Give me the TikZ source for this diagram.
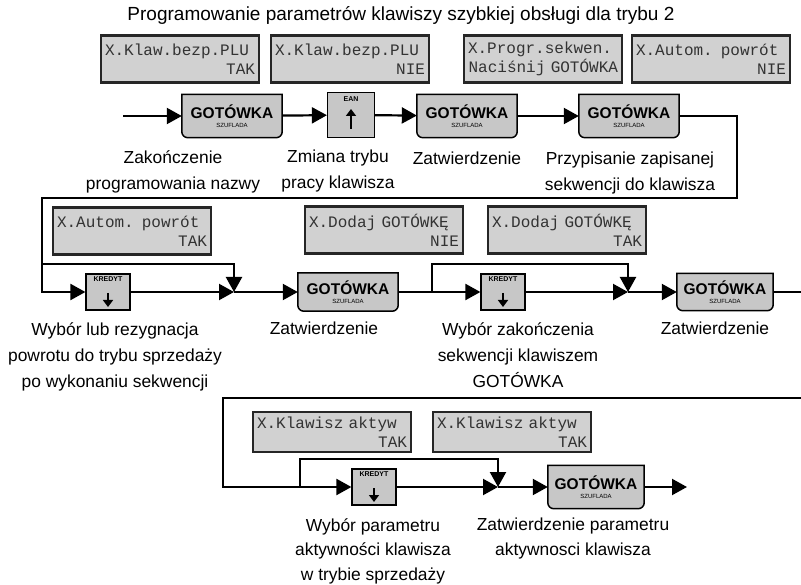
\documentclass[tikz,border=0pt]{standalone}
\usepackage{fontspec}
\setmainfont{Liberation Sans}
\setmonofont{Liberation Mono}
\usetikzlibrary{arrows.meta,backgrounds}

\definecolor{keygray}{gray}{0.78}
\definecolor{lcdgray}{gray}{0.82}
\newcommand\lcdtext[2]{#1\\\hspace*{\fill}#2}
\newcommand\gotkey{{\fontsize{15.5}{16}\selectfont\bfseries GOTÓWKA}\\[-3pt]{\fontsize{6}{7}\selectfont SZUFLADA}}

\begin{document}
\begin{tikzpicture}[x=1pt, y=-1pt,
    >={Triangle[length=15pt,width=16pt]},
    flow/.style={->, line width=2.2pt},
    link/.style={line width=2.2pt},
    lcd/.style={draw=black!85, line width=2.6pt, fill=lcdgray, text=black!80,
      font=\fontsize{16}{19}\ttfamily, text width=150pt, align=left,
      inner xsep=4pt, inner ysep=3pt, minimum height=47pt},
    gkey/.style={minimum width=100pt, minimum height=43pt, align=center, inner sep=0pt},
    skey/.style={draw, line width=1.2pt, fill=keygray, minimum width=44pt,
      minimum height=36pt, inner sep=0pt},
    keylabel/.style={anchor=north, inner sep=3.5pt, font=\fontsize{7}{8}\selectfont\bfseries},
    keyarrow/.style={-{Triangle[length=7pt,width=10pt]}, line width=2pt},
    keyshape/.style={draw, line width=1.5pt, fill=keygray},
    caption/.style={anchor=north, align=center, inner sep=0pt,
      font=\fontsize{17.4}{26}\selectfont}]

  \useasboundingbox (0,0) rectangle (801,585);
  \clip (0,0) rectangle (801,585);

  \node[font=\fontsize{19}{22}\selectfont] (title) at (401,15)
    {Programowanie parametrów klawiszy szybkiej obsługi dla trybu 2};

  % row 1
  \node[lcd] (d1) at (180,59) {\lcdtext{X.Klaw.bezp.PLU}{TAK}};
  \node[lcd] (d2) at (350,59) {\lcdtext{X.Klaw.bezp.PLU}{NIE}};
  \node[lcd] (d3) at (543,59) {\lcdtext{X.Progr.sekwen.}{Naciśnij GOTÓWKA}};
  \node[lcd] (d4) at (711,59) {\lcdtext{X.Autom. powrót}{NIE}};

  \coordinate (s1) at (123,116);
  \node[gkey] (g1) at (232,116) {\gotkey};
  \node[skey, minimum width=47pt, minimum height=45pt, label={[keylabel, inner sep=5pt]north:EAN}] (e1) at (351,115) {};
  \node[gkey] (g2) at (467,116) {\gotkey};
  \node[gkey] (g3) at (629,116) {\gotkey};
  \draw[keyarrow] ([yshift=-14pt]e1.center) -- ([yshift=6pt]e1.center);

  \node[caption] (l1) at (173,150) {Zakończenie\\programowania nazwy};
  \node[caption] (l2) at (338,150) {Zmiana trybu\\pracy klawisza};
  \node[caption] (l3) at (467,152) {Zatwierdzenie};
  \node[caption] (l4) at (630,152) {Przypisanie zapisanej\\sekwencji do klawisza};

  \draw[flow] (s1) -- (g1);
  \draw[flow] (g1) -- (e1);
  \draw[flow] (e1) -- (g2);
  \draw[flow] (g2) -- (g3);

  % row 2
  \node[lcd] (d5) at (132,231) {\lcdtext{X.Autom. powrót}{TAK}};
  \node[lcd] (d6) at (384,230) {\lcdtext{X.Dodaj GOTÓWKĘ}{NIE}};
  \node[lcd] (d7) at (567,230) {\lcdtext{X.Dodaj GOTÓWKĘ}{TAK}};

  \node[skey, label={[keylabel]north:KREDYT}] (k1) at (108,292) {};
  \coordinate (j1) at (234,292);
  \node[gkey, minimum height=38pt] (g4) at (348,292) {\gotkey};
  \coordinate (b2) at (432,292);
  \node[skey, label={[keylabel]north:KREDYT}] (k2) at (503,292) {};
  \coordinate (j2) at (628,292);
  \node[gkey, minimum height=37pt, minimum width=96pt] (g5) at (725,292) {\gotkey};

  \node[caption] (l5) at (115,322) {Wybór lub rezygnacja\\powrotu do trybu sprzedaży\\po wykonaniu sekwencji};
  \node[caption] (l6) at (324,322) {Zatwierdzenie};
  \node[caption] (l7) at (518,322) {Wybór zakończenia\\sekwencji klawiszem\\GOTÓWKA};
  \node[caption] (l8) at (715,322) {Zatwierdzenie};

  \coordinate (t1) at (737,198);
  \coordinate (t2) at (42,198);
  \coordinate (b1) at (42,264);
  \draw[flow] (g3.east) -| (t1) -- (t2) |- (k1.west);
  \draw[flow] (b1) -| (j1);
  \draw[flow] (k1) -- (j1);
  \draw[flow] (j1) -- (g4);
  \draw[link] (g4) -- (b2);
  \draw[flow] (b2) -- (k2);
  \draw[flow] (b2) -- ++(0,-28) -| (j2);
  \draw[flow] (k2) -- (j2);
  \draw[flow] (j2) -- (g5);

  % row 3
  \node[lcd, minimum height=40pt] (d8) at (332,432) {\lcdtext{X.Klawisz aktyw}{TAK}};
  \node[lcd, minimum height=40pt] (d9) at (512,432) {\lcdtext{X.Klawisz aktyw}{TAK}};

  \node[skey, label={[keylabel]north:KREDYT}] (k3) at (374,487) {};
  \coordinate (b3) at (300,487);
  \coordinate (j3) at (498,487);
  \node[gkey, minimum width=96pt] (g6) at (596,487) {\gotkey};
  \coordinate (e6) at (687,487);

  \node[caption, font=\fontsize{17.4}{24.5}\selectfont] (l9) at (373,518) {Wybór parametru\\aktywności klawisza\\w trybie sprzedaży};
  \node[caption, font=\fontsize{17.4}{24.5}\selectfont] (l10) at (573,518) {Zatwierdzenie parametru\\aktywnosci klawisza};

  \coordinate (r2) at (812,398);
  \coordinate (r3) at (223,398);
  \draw[flow] (g5.east) -| (r2) -- (r3) |- (k3.west);
  \draw[flow] (b3) -- ++(0,-28) -| (j3);
  \draw[flow] (k3) -- (j3);
  \draw[flow] (j3) -- (g6);
  \draw[flow] (g6) -- (e6);

  % arrows printed on the KREDYT keys
  \foreach \k in {k1,k2,k3}
    \draw[keyarrow] ([yshift=-1pt]\k.center) -- ([yshift=-15pt]\k.center);

  % key bodies, rounded at the bottom only
  \begin{scope}[on background layer]
    \foreach \k in {g1,g2,g3,g4,g5,g6}
      \draw[keyshape] (\k.north west) -- (\k.north east)
        -- ([yshift=6pt]\k.south east) arc[start angle=0, end angle=-90, radius=6pt]
        -- ([xshift=6pt]\k.south west) arc[start angle=270, end angle=180, radius=6pt]
        -- cycle;
  \end{scope}
\end{tikzpicture}
\end{document}
